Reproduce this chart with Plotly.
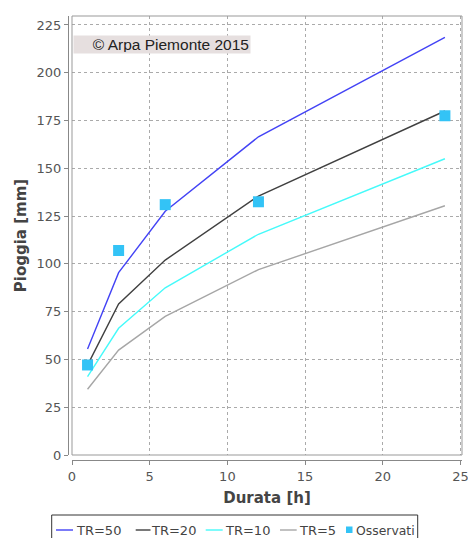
import plotly.graph_objects as go

durata = [1, 3, 6, 12, 24]
tr50 = [55.5, 95.4, 127.5, 166.5, 218.5]
tr20 = [47.0, 79.0, 102.0, 135.5, 180.0]
tr10 = [41.0, 66.3, 87.5, 115.5, 155.0]
tr5 = [34.4, 54.9, 72.5, 97.0, 130.4]
osservati = [47.1, 107.0, 131.0, 132.5, 177.5]

x_ticks = [0, 5, 10, 15, 20, 25]
y_ticks = [0, 25, 50, 75, 100, 125, 150, 175, 200, 225]

# body margin is removed by a post script, so the figure sits at (0, 0)
W, H = 468, 538
L, R, T, B = 72, 462, 16, 455  # pixel coordinates of plot frame


def xp(px):
    return px / W


def yp(py):
    return (H - py) / H


fig = go.Figure()
series = [("TR=50", tr50, "#4343f5"), ("TR=20", tr20, "#404040"),
          ("TR=10", tr10, "#45fafa"), ("TR=5", tr5, "#a6a6a6")]
for name, vals, col in series:
    fig.add_trace(go.Scatter(x=durata, y=vals, mode="lines", name=name,
                             line=dict(color=col, width=1.4)))
marker_col = "#33c3f6"
fig.add_trace(go.Scatter(x=durata, y=osservati, mode="markers", name="Osservati",
                         marker=dict(symbol="square", size=11, color=marker_col)))

tickfont = dict(family="DejaVu Sans", size=13, color="#555555")
titlefont = dict(family="DejaVu Sans", size=15, color="#444444", weight="bold")
legfont = dict(family="DejaVu Sans", size=13, color="#444444")

shapes = [dict(type="rect", xref="x domain", yref="y domain", x0=0, x1=1, y0=0, y1=1,
               line=dict(color="#999999", width=1), layer="above")]
annotations = [dict(text="© Arpa Piemonte 2015", xref="paper", yref="paper",
                    x=xp(161.7), y=yp(45), xanchor="center", yanchor="middle",
                    showarrow=False, width=174, height=15, align="right",
                    bgcolor="#e6dfdf", borderpad=1,
                    font=dict(family="Liberation Sans", size=15.5, color="#222222"))]

# legend box (custom, compact like the reference)
shapes.append(dict(type="rect", xref="paper", yref="paper", x0=xp(51.7), x1=xp(417.7),
                   y0=yp(548), y1=yp(515), line=dict(color="#333333", width=1),
                   fillcolor="white", layer="above"))
leg_y = 530
leg_items = [("TR=50", "#4343f5", 56, 73, 76.7), ("TR=20", "#404040", 135.7, 150.5, 152),
             ("TR=10", "#45fafa", 205.7, 222.7, 226), ("TR=5", "#a6a6a6", 280, 296.7, 300)]
for name, col, a, b, t in leg_items:
    shapes.append(dict(type="line", xref="paper", yref="paper", x0=xp(a), x1=xp(b),
                       y0=yp(leg_y), y1=yp(leg_y), line=dict(color=col, width=1.4),
                       layer="above"))
    annotations.append(dict(text=name, xref="paper", yref="paper", x=xp(t - 3),
                            y=yp(leg_y), xanchor="left", yanchor="middle",
                            showarrow=False, font=legfont))
shapes.append(dict(type="rect", xref="paper", yref="paper", x0=xp(346), x1=xp(352.5),
                   y0=yp(533), y1=yp(526.5), line=dict(width=0), fillcolor=marker_col,
                   layer="above"))
annotations.append(dict(text="Osservati", xref="paper", yref="paper", x=xp(353.5),
                        y=yp(leg_y), xanchor="left", yanchor="middle", showarrow=False,
                        font=dict(family="DejaVu Sans", size=12.4, color="#444444")))

fig.update_layout(
    width=W, height=H,
    margin=dict(l=0, r=0, t=0, b=0, autoexpand=False),
    paper_bgcolor="white", plot_bgcolor="white",
    showlegend=False,
    xaxis=dict(domain=[xp(L), xp(R)], range=[0, 25.1], anchor="free",
               position=yp(460), tickvals=x_ticks, ticks="outside",
               ticklen=4, tickcolor="#888888", showline=True, linecolor="#888888",
               linewidth=1, showgrid=True, gridcolor="#aaaaaa", griddash="dot",
               gridwidth=1, zeroline=False, tickfont=tickfont, automargin=False,
               ticklabeloverflow="allow",
               title=dict(text="Durata [h]", font=titlefont, standoff=9)),
    yaxis=dict(domain=[yp(B), yp(T)], range=[0, 229.7], anchor="free",
               position=xp(68), tickvals=y_ticks, ticks="outside",
               ticklen=4, tickcolor="#888888", showline=True, linecolor="#888888",
               linewidth=1, showgrid=True, gridcolor="#aaaaaa", griddash="dot",
               gridwidth=1, zeroline=False, tickfont=tickfont, automargin=False,
               ticklabeloverflow="allow",
               title=dict(text="Pioggia [mm]", font=titlefont, standoff=5)),
    shapes=shapes,
    annotations=annotations,
)

fig.write_html("out.html", config={"displayModeBar": False},
               post_script="document.body.style.margin='0';"
                           "document.body.style.overflow='hidden';")
